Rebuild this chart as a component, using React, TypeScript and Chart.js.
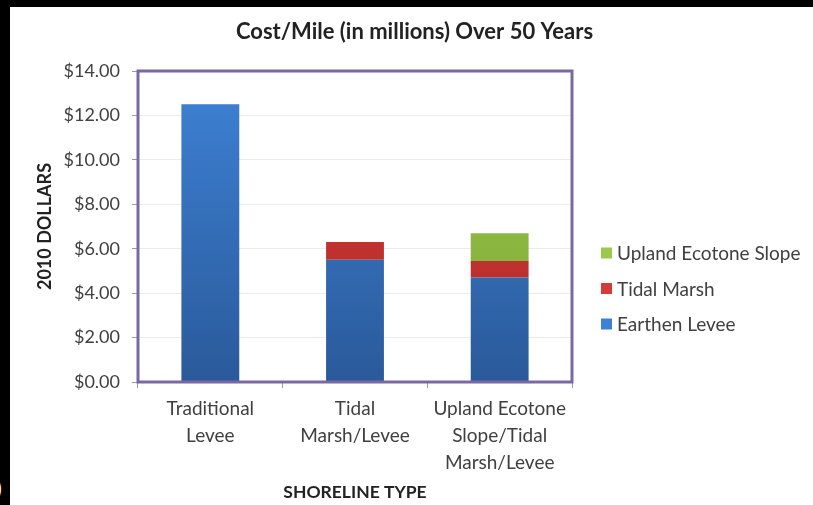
import React, { useEffect, useRef } from "react";
import { Chart, registerables } from "chart.js";

Chart.register(...registerables);

const categories: string[][] = [
  ["Traditional", "Levee"],
  ["Tidal", "Marsh/Levee"],
  ["Upland Ecotone", "Slope/Tidal", "Marsh/Levee"],
];
const seriesNames = ["Earthen Levee", "Tidal Marsh", "Upland Ecotone Slope"];
const earthenLevee = [12.5, 5.5, 4.7];
const tidalMarsh = [0, 0.8, 0.75];
const uplandEcotoneSlope = [0, 0, 1.25];
const yMin = 0;
const yMax = 14;
const yStep = 2;
const chartTitle = "Cost/Mile (in millions) Over 50 Years";

const FONT = "Lato, 'Liberation Sans', sans-serif";

const palette = [
  ["#3e82d6", "#2a5a9a"],
  ["#d43c37", "#b02a28"],
  ["#9bc94b", "#7ea837"],
];

function barGradient(idx: number) {
  return (ctx: any) => {
    const chart = ctx.chart;
    const area = chart.chartArea;
    if (!area || ctx.type !== "data") return palette[idx][0];
    const y = chart.scales.y;
    const meta = chart.getDatasetMeta(ctx.datasetIndex);
    const el = meta.data[ctx.dataIndex];
    let top = area.top;
    let bottom = area.bottom;
    if (el && typeof el.y === "number" && typeof el.base === "number") {
      top = Math.min(el.y, el.base);
      bottom = Math.max(el.y, el.base);
    } else {
      bottom = y.getPixelForValue(0);
    }
    if (!(bottom > top)) return palette[idx][0];
    const g = chart.ctx.createLinearGradient(0, top, 0, bottom);
    g.addColorStop(0, palette[idx][0]);
    g.addColorStop(1, palette[idx][1]);
    return g;
  };
}

const plotBorder = {
  id: "plotBorder",
  afterDatasetsDraw(chart: any) {
    const { ctx, chartArea: a } = chart;
    ctx.save();
    ctx.strokeStyle = "#7a68a2";
    ctx.lineWidth = 3;
    ctx.strokeRect(a.left, a.top, a.right - a.left, a.bottom - a.top);
    ctx.restore();
  },
};

const centeredTitle = {
  id: "centeredTitle",
  afterDraw(chart: any) {
    const { ctx, width } = chart;
    ctx.save();
    ctx.font = `bold 22px ${FONT}`;
    ctx.fillStyle = "#222222";
    ctx.textAlign = "center";
    ctx.textBaseline = "middle";
    ctx.fillText(chartTitle, width / 2 + 8, 32);
    ctx.restore();
  },
};

const sideLegend = {
  id: "sideLegend",
  afterDraw(chart: any) {
    const { ctx, chartArea: a } = chart;
    const ds = chart.data.datasets;
    ctx.save();
    ctx.font = `19px ${FONT}`;
    ctx.textBaseline = "middle";
    ctx.textAlign = "left";
    const x = a.right + 29;
    let y = a.top + 182;
    for (let i = ds.length - 1; i >= 0; i--) {
      ctx.fillStyle = palette[i][0];
      ctx.fillRect(x, y - 5.5, 11, 11);
      ctx.fillStyle = "#404040";
      ctx.fillText(ds[i].label, x + 16, y + 1);
      y += 35.5;
    }
    ctx.restore();
  },
};

export default function App() {
  const ref = useRef<HTMLCanvasElement | null>(null);

  useEffect(() => {
    if (!ref.current) return;
    const values = [earthenLevee, tidalMarsh, uplandEcotoneSlope];
    const chart = new Chart(ref.current, {
      type: "bar",
      data: {
        labels: categories as any,
        datasets: values.map((v, i) => ({
          label: seriesNames[i],
          data: v,
          backgroundColor: barGradient(i) as any,
          borderWidth: 0,
          barPercentage: 0.4,
          categoryPercentage: 1.0,
        })),
      },
      options: {
        responsive: false,
        animation: false,
        devicePixelRatio: 1,
        layout: { padding: { left: 0, right: 241, top: 71, bottom: 0 } },
        plugins: {
          legend: { display: false },
          tooltip: { enabled: false },
          title: { display: false },
        },
        scales: {
          x: {
            stacked: true,
            offset: true,
            border: { display: false },
            grid: {
              display: true,
              drawOnChartArea: false,
              drawTicks: true,
              tickLength: 6,
              tickColor: "#9a9aa8",
              offset: true,
            },
            ticks: {
              color: "#404040",
              font: { family: FONT, size: 19, lineHeight: 1.42 },
              maxRotation: 0,
              autoSkip: false,
              padding: 7,
            },
            title: {
              display: true,
              text: "SHORELINE TYPE",
              color: "#222222",
              font: { family: FONT, size: 17.5, weight: "bold" },
              padding: { top: 0, bottom: 2 },
            },
            afterFit(scale: any) {
              scale.height = 123;
            },
          },
          y: {
            stacked: true,
            min: yMin,
            max: yMax,
            border: { display: false },
            grid: {
              color: "#ebebeb",
              tickColor: "#9a9aa8",
              tickLength: 6,
            },
            ticks: {
              stepSize: yStep,
              color: "#404040",
              font: { family: FONT, size: 18 },
              padding: 12,
              callback: (v: any) => "$" + Number(v).toFixed(2),
            },
            title: {
              display: true,
              text: "2010 DOLLARS",
              color: "#222222",
              font: { family: FONT, size: 18, weight: "bold" },
              padding: { top: 34, bottom: 0 },
            },
            afterFit(scale: any) {
              scale.width = 138;
            },
          },
        },
      },
      plugins: [plotBorder, centeredTitle, sideLegend],
    });
    return () => chart.destroy();
  }, []);

  return (
    <div style={{ position: "absolute", left: 0, top: 0, width: 813, height: 505, background: "#000", overflow: "hidden" }}>
      <div style={{ position: "absolute", left: 10, top: 7, width: 803, height: 498, background: "#fff" }} />
      <span style={{ position: "absolute", left: -4, top: 474, color: "#fff", fontFamily: FONT, fontSize: 22 }}>)</span>
      <canvas ref={ref} width={813} height={505} style={{ position: "absolute", left: 0, top: 0, width: 813, height: 505 }} />
    </div>
  );
}
